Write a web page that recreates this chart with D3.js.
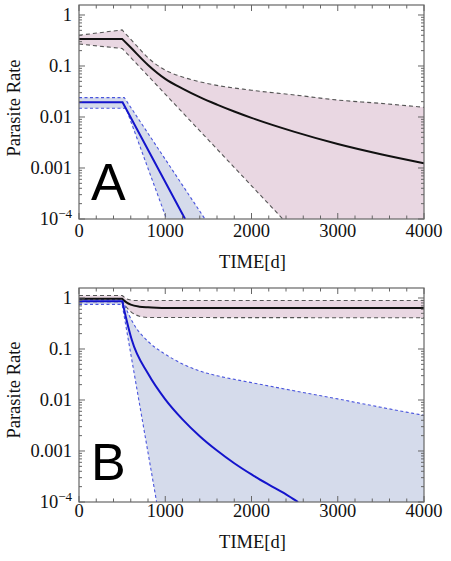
<!DOCTYPE html>
<html>
<head>
<meta charset="utf-8">
<script src="https://cdn.jsdelivr.net/npm/d3@7"></script>
<style>
  html, body { margin: 0; padding: 0; background: #fff; }
  svg { display: block; }
</style>
</head>
<body>
<svg id="chart" width="451" height="561"></svg>
<script>
// ---------------- data ----------------
const timeTicks = [0, 1000, 2000, 3000, 4000];
const timeTickLabels = ["0", "1000", "2000", "3000", "4000"];
const rateTicks = [1, 0.1, 0.01, 0.001, 1e-4];
const rateTickLabels = ["1", "0.1", "0.01", "0.001", "10^-4"];
const panelLetters = ["A", "B"];
const xTitle = "TIME[d]";
const yTitle = "Parasite Rate";

// Panel A — black (median + band)
const aBlackMedT = [0, 500, 600, 800, 1000, 1200, 1400, 1600, 1800, 2000, 2500, 3000, 3500, 4000];
const aBlackMedV = [0.34, 0.34, 0.23, 0.105, 0.056, 0.036, 0.0245, 0.0175, 0.0128, 0.0096, 0.0051, 0.00295, 0.00186, 0.00124];
const aBlackUpT = [0, 500, 650, 800, 1000, 1200, 1500, 2000, 2500, 3000, 3500, 4000];
const aBlackUpV = [0.40, 0.51, 0.27, 0.145, 0.083, 0.061, 0.045, 0.0335, 0.027, 0.0215, 0.0185, 0.0155];
const aBlackLoT = [0, 502, 2363];
const aBlackLoV = [0.27, 0.22, 1e-4];
// Panel A — blue
const aBlueMedT = [0, 505, 1230];
const aBlueMedV = [0.0194, 0.0194, 1e-4];
const aBlueUpT = [0, 525, 1460];
const aBlueUpV = [0.024, 0.024, 1e-4];
const aBlueLoT = [0, 545, 1015];
const aBlueLoV = [0.0148, 0.0148, 1e-4];

// Panel B — black
const bBlackMedT = [0, 500, 550, 600, 700, 800, 900, 1000, 4000];
const bBlackMedV = [0.97, 0.97, 0.82, 0.74, 0.675, 0.655, 0.645, 0.64, 0.64];
const bBlackUpT = [0, 500, 550, 600, 650, 4000];
const bBlackUpV = [1.12, 1.12, 0.97, 0.91, 0.89, 0.89];
const bBlackLoT = [0, 500, 550, 600, 700, 800, 4000];
const bBlackLoV = [0.85, 0.85, 0.66, 0.54, 0.44, 0.415, 0.41];
// Panel B — blue
const bBlueMedT = [0, 502, 550, 610, 800, 1000, 1200, 1400, 1600, 1800, 2000, 2200, 2400, 2540];
const bBlueMedV = [0.86, 0.86, 0.38, 0.155, 0.033, 0.0103, 0.00417, 0.00195, 0.00102, 0.000575, 0.000347, 0.000219, 0.000141, 1e-4];
const bBlueUpT = [0, 505, 570, 650, 800, 1000, 1200, 1400, 1600, 2000, 2500, 3000, 3500, 4000];
const bBlueUpV = [0.93, 0.93, 0.5, 0.28, 0.141, 0.079, 0.051, 0.037, 0.030, 0.0219, 0.0151, 0.0105, 0.0072, 0.0050];
const bBlueLoT = [0, 500, 900];
const bBlueLoV = [0.75, 0.75, 1e-4];

// ---------------- drawing ----------------
const zip = (t, v) => t.map((d, i) => ({t: d, v: v[i]}));

// knee: index up to which the series is drawn with straight segments (sharp corner), smooth afterwards
const panels = [
  {
    letter: panelLetters[0], top: 5, bottom: 219, tickLabelDy: 18, titleDy: 49, yTitleY: 108, letterY: 200,
    black: {med: zip(aBlackMedT, aBlackMedV), up: zip(aBlackUpT, aBlackUpV), lo: zip(aBlackLoT, aBlackLoV),
            kMed: 1, kUp: 1, kLo: 99},
    blue:  {med: zip(aBlueMedT, aBlueMedV), up: zip(aBlueUpT, aBlueUpV), lo: zip(aBlueLoT, aBlueLoV),
            kMed: 99, kUp: 99, kLo: 99}
  },
  {
    letter: panelLetters[1], top: 288, bottom: 502, tickLabelDy: 15, titleDy: 46, yTitleY: 390, letterY: 480,
    black: {med: zip(bBlackMedT, bBlackMedV), up: zip(bBlackUpT, bBlackUpV), lo: zip(bBlackLoT, bBlackLoV),
            kMed: 1, kUp: 1, kLo: 1},
    blue:  {med: zip(bBlueMedT, bBlueMedV), up: zip(bBlueUpT, bBlueUpV), lo: zip(bBlueLoT, bBlueLoV),
            kMed: 1, kUp: 1, kLo: 99}
  }
];

const svg = d3.select("#chart");
const left = 79, right = 424;
const serif = "'Liberation Serif', 'Times New Roman', serif";

const colors = {
  pinkFill: "#e9d7e2",
  blueFill: "#d5dbeb",
  blackLine: "#111",
  blackDash: "#555",
  blueLine: "#1414cc",
  blueDash: "#4a55dd",
  frame: "#666"
};

panels.forEach((p, pi) => {
  const x = d3.scaleLinear().domain([0, 4000]).range([left, right]);
  const y = d3.scaleLog().domain([1e-4, 1.57]).range([p.bottom, p.top]);
  const g = svg.append("g");

  const clipId = "clip" + pi;
  svg.append("clipPath").attr("id", clipId)
    .append("rect").attr("x", left).attr("y", p.top)
    .attr("width", right - left).attr("height", p.bottom - p.top);

  const plot = g.append("g").attr("clip-path", `url(#${clipId})`);
  const lin = d3.line().x(d => x(d.t)).y(d => y(d.v));
  const smooth = d3.line().x(d => x(d.t)).y(d => y(d.v)).curve(d3.curveMonotoneX);

  // path string: linear up to knee, monotone afterwards
  function seriesPath(data, knee) {
    if (knee >= data.length - 1) return lin(data);
    const a = lin(data.slice(0, knee + 1));
    const b = smooth(data.slice(knee));
    return a + "L" + b.slice(1);
  }
  function seriesPathRev(data, knee) {
    if (knee >= data.length - 1) return lin(data.slice().reverse());
    const b = smooth(data.slice(knee).reverse());
    const a = lin(data.slice(0, knee + 1).reverse());
    return b + "L" + a.slice(1);
  }
  const yMin = y.domain()[0];

  function band(set, fill) {
    const lastUp = set.up[set.up.length - 1];
    const lastLo = set.lo[set.lo.length - 1];
    let dPath = seriesPath(set.up, set.kUp);
    if (lastLo.t < lastUp.t) dPath += "L" + x(lastUp.t) + "," + y(yMin) + "L" + x(lastLo.t) + "," + y(yMin);
    dPath += "L" + seriesPathRev(set.lo, set.kLo).slice(1) + "Z";
    plot.append("path").attr("d", dPath).attr("fill", fill).attr("stroke", "none");
  }

  band(p.black, colors.pinkFill);
  band(p.blue, colors.blueFill);

  // dashed bounds
  [[p.black.up, p.black.kUp, colors.blackDash, "4,3"], [p.black.lo, p.black.kLo, colors.blackDash, "4,3"],
   [p.blue.up, p.blue.kUp, colors.blueDash, "3,2.5"], [p.blue.lo, p.blue.kLo, colors.blueDash, "3,2.5"]]
    .forEach(([data, k, c, dash]) => {
      plot.append("path").attr("d", seriesPath(data, k)).attr("fill", "none")
        .attr("stroke", c).attr("stroke-width", 1.1).attr("stroke-dasharray", dash);
    });
  // medians
  plot.append("path").attr("d", seriesPath(p.black.med, p.black.kMed)).attr("fill", "none")
    .attr("stroke", colors.blackLine).attr("stroke-width", 2);
  plot.append("path").attr("d", seriesPath(p.blue.med, p.blue.kMed)).attr("fill", "none")
    .attr("stroke", colors.blueLine).attr("stroke-width", 2);

  // frame
  g.append("rect").attr("x", left).attr("y", p.top)
    .attr("width", right - left).attr("height", p.bottom - p.top)
    .attr("fill", "none").attr("stroke", colors.frame).attr("stroke-width", 1.2);

  // x ticks (major every 1000, minor every 200), inward on top and bottom
  const xMinor = d3.range(0, 4001, 200);
  const tickG = g.append("g").attr("stroke", colors.frame).attr("stroke-width", 1);
  xMinor.forEach(t => {
    const major = timeTicks.includes(t);
    const len = major ? 6 : 3.5;
    tickG.append("line").attr("x1", x(t)).attr("x2", x(t)).attr("y1", p.bottom).attr("y2", p.bottom - len);
    tickG.append("line").attr("x1", x(t)).attr("x2", x(t)).attr("y1", p.top).attr("y2", p.top + len);
  });
  // y ticks (decades major, 2..9 minor)
  const yTickVals = [];
  for (let e = -4; e <= 0; e++) {
    for (let m = 1; m <= 9; m++) {
      const v = m * Math.pow(10, e);
      if (v >= 1e-4 && v <= 1.57) yTickVals.push({v, major: m === 1});
    }
  }
  yTickVals.forEach(({v, major}) => {
    const len = major ? 6 : 3;
    tickG.append("line").attr("x1", left).attr("x2", left + len).attr("y1", y(v)).attr("y2", y(v));
    tickG.append("line").attr("x1", right).attr("x2", right - len).attr("y1", y(v)).attr("y2", y(v));
  });

  // x tick labels
  timeTicks.forEach((t, i) => {
    g.append("text").attr("x", x(t)).attr("y", p.bottom + p.tickLabelDy)
      .attr("text-anchor", "middle").attr("font-family", serif).attr("font-size", 18.5)
      .attr("fill", "#111").text(timeTickLabels[i]);
  });
  // y tick labels
  rateTicks.forEach((v, i) => {
    const lab = rateTickLabels[i];
    const t = g.append("text").attr("x", 72).attr("y", y(v)).attr("dy", "0.33em")
      .attr("text-anchor", "end").attr("font-family", serif).attr("font-size", 18.5).attr("fill", "#111");
    if (lab.includes("^")) {
      const [base, exp] = lab.split("^");
      t.append("tspan").text(base);
      t.append("tspan").attr("font-size", 13).attr("dy", "-0.55em").text(exp.replace("-", "\u2212"));
    } else {
      t.text(lab);
    }
  });

  // axis titles
  g.append("text").attr("x", (left + right) / 2 + 1).attr("y", p.bottom + p.titleDy)
    .attr("text-anchor", "middle").attr("font-family", serif).attr("font-size", 18.5)
    .attr("fill", "#111").text(xTitle);
  g.append("text").attr("transform", `translate(20,${p.yTitleY}) rotate(-90)`)
    .attr("text-anchor", "middle").attr("font-family", serif).attr("font-size", 18.5)
    .attr("fill", "#111").text(yTitle);

  // panel letter
  g.append("text").attr("x", 91).attr("y", p.letterY)
    .attr("font-family", "'Liberation Sans', Arial, sans-serif").attr("font-size", 52)
    .attr("fill", "#000").text(p.letter);
});
</script>
</body>
</html>
